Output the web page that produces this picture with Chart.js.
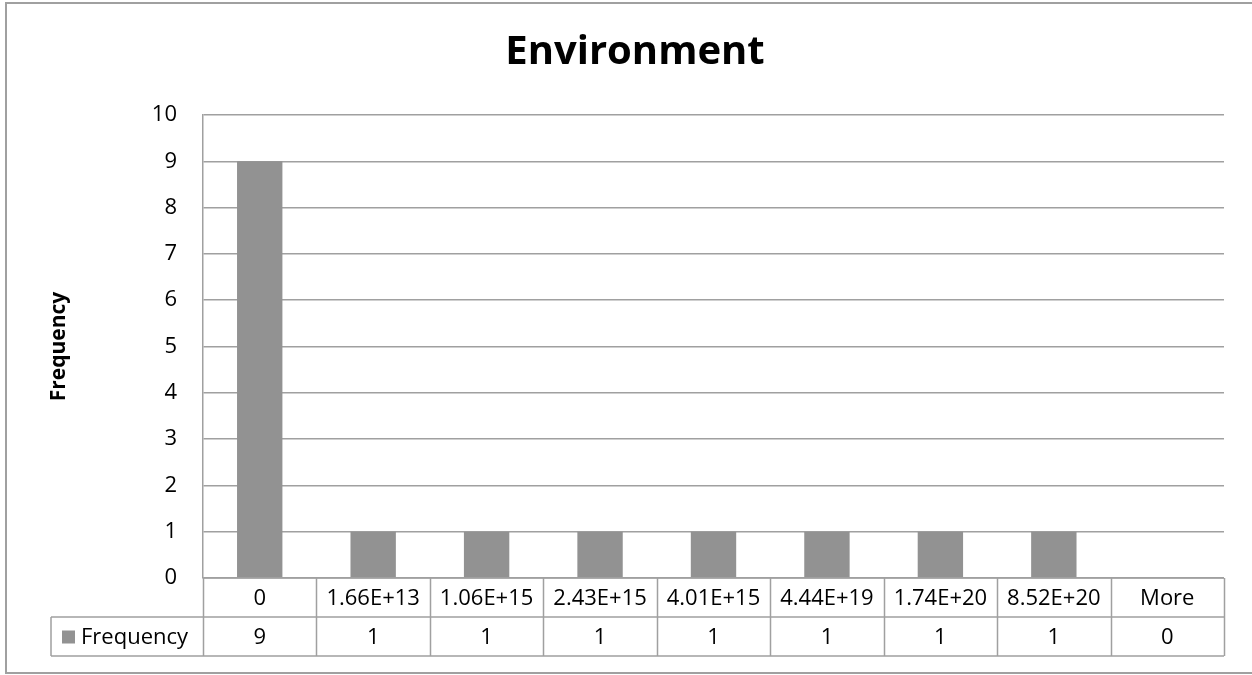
<!DOCTYPE html>
<html>
<head>
<meta charset="utf-8">
<script src="https://cdn.jsdelivr.net/npm/chart.js@4"></script>
<style>
html,body{margin:0;padding:0;background:#fff;}
#wrap{width:1252px;height:675px;position:relative;}
</style>
</head>
<body>
<div id="wrap"><canvas id="c" width="1252" height="675"></canvas></div>
<script>
const categories = ['0', '1.66E+13', '1.06E+15', '2.43E+15', '4.01E+15', '4.44E+19', '1.74E+20', '8.52E+20', 'More'];
const frequency = [9, 1, 1, 1, 1, 1, 1, 1, 0];
const seriesName = 'Frequency';
const chartTitle = 'Environment';
const yTicks = [0, 1, 2, 3, 4, 5, 6, 7, 8, 9, 10];

const FONT = "'Open Sans', 'Liberation Sans', sans-serif";
const LINE = '#a0a0a0';
const BAR = '#929292';
const TXT = 22;

const tablePlugin = {
  id: 'dataTable',
  afterDraw(chart) {
    const ctx = chart.ctx;
    const x = chart.scales.x;
    const area = chart.chartArea;
    const n = categories.length;
    const step = (area.right - area.left) / n;
    const rowH = 39;
    const y0 = area.bottom, y1 = y0 + rowH, y2 = y1 + rowH;
    const legendLeft = 51;
    ctx.save();
    ctx.strokeStyle = LINE;
    ctx.lineWidth = 1.5;
    ctx.beginPath();
    ctx.moveTo(area.left, y0); ctx.lineTo(area.right, y0);
    ctx.moveTo(legendLeft, y1); ctx.lineTo(area.right, y1);
    ctx.moveTo(legendLeft, y2); ctx.lineTo(area.right, y2);
    for (let i = 0; i <= n; i++) {
      const px = Math.round(area.left + i * step) + 0.5;
      ctx.moveTo(px, y0); ctx.lineTo(px, y2);
    }
    ctx.moveTo(legendLeft, y1); ctx.lineTo(legendLeft, y2);
    ctx.stroke();

    ctx.fillStyle = '#000';
    ctx.font = TXT + 'px ' + FONT;
    ctx.textAlign = 'center';
    ctx.textBaseline = 'middle';
    for (let i = 0; i < n; i++) {
      const cx = x.getPixelForValue(i);
      ctx.fillText(categories[i], cx, (y0 + y1) / 2 + 1);
      ctx.fillText(String(frequency[i]), cx, (y1 + y2) / 2 + 1);
    }
    ctx.fillStyle = BAR;
    ctx.fillRect(legendLeft + 11, (y1 + y2) / 2 - 6, 13, 13);
    ctx.fillStyle = '#000';
    ctx.textAlign = 'left';
    ctx.fillText(seriesName, legendLeft + 30, (y1 + y2) / 2 + 1);

    ctx.strokeStyle = '#a0a0a0';
    ctx.lineWidth = 2;
    ctx.beginPath();
    ctx.moveTo(1252, 3); ctx.lineTo(6, 3); ctx.lineTo(6, 673); ctx.lineTo(1252, 673);
    ctx.stroke();
    ctx.restore();
  }
};

new Chart(document.getElementById('c'), {
  type: 'bar',
  data: {
    labels: categories,
    datasets: [{
      label: seriesName,
      data: frequency,
      backgroundColor: BAR,
      borderWidth: 0,
      barPercentage: 0.4,
      categoryPercentage: 1.0
    }]
  },
  options: {
    responsive: false,
    animation: false,
    devicePixelRatio: 1,
    layout: { padding: { left: 46, right: 28, top: 0, bottom: 97 } },
    plugins: {
      legend: { display: false },
      tooltip: { enabled: false },
      title: {
        display: true,
        text: chartTitle,
        color: '#000',
        font: { family: FONT, size: 40, weight: 'bold', lineHeight: 1.2 },
        padding: { top: 29, bottom: 38 }
      }
    },
    scales: {
      x: {
        display: false,
        offset: true,
        grid: { display: false }
      },
      y: {
        min: 0,
        max: 10,
        afterBuildTicks(scale) { scale.ticks = yTicks.map(v => ({ value: v })); },
        afterFit(scale) { scale.width = 157; },
        border: { display: true, color: LINE, width: 1.5 },
        grid: { color: LINE, lineWidth: 1.5, drawTicks: false },
        ticks: {
          color: '#000',
          padding: 26,
          font: { family: FONT, size: TXT }
        },
        title: {
          display: true,
          text: seriesName,
          color: '#000',
          font: { family: FONT, size: 21, weight: 'bold', lineHeight: 1.2 },
          padding: { top: 0, bottom: 0 }
        }
      }
    }
  },
  plugins: [tablePlugin]
});
</script>
</body>
</html>
